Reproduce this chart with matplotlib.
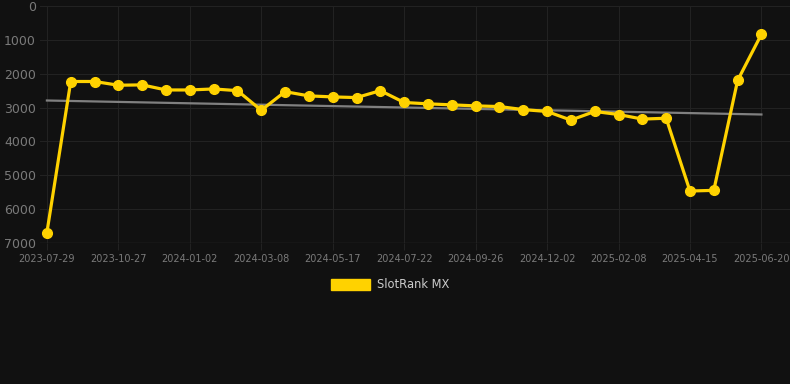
import matplotlib.pyplot as plt
import numpy as np
from matplotlib.patches import Patch

# rank values, one per observation (lower = better)
ranks = [6690, 2230, 2230, 2340, 2330, 2480, 2480, 2450, 2500, 3080,
         2530, 2655, 2685, 2705, 2500, 2850, 2890, 2920, 2950, 2970,
         3060, 3115, 3370, 3115, 3205, 3340, 3315, 5465, 5445, 2200, 835]
tick_labels = ['2023-07-29', '2023-10-27', '2024-01-02', '2024-03-08', '2024-05-17',
               '2024-07-22', '2024-09-26', '2024-12-02', '2025-02-08', '2025-04-15',
               '2025-06-20']
series_name = 'SlotRank MX'

bg = '#111111'
x = np.arange(len(ranks))

fig = plt.figure(figsize=(7.9, 3.84), dpi=100, facecolor=bg)
ax = fig.add_axes([40 / 790, (384 - 243) / 384, 750 / 790, 237 / 384])
ax.set_facecolor(bg)

# trend line (linear fit)
k, b = np.polyfit(x, ranks, 1)
ax.plot(x, k * x + b, color='#808080', lw=1.6, zorder=2)

ax.plot(x, ranks, color='#FFD200', lw=2.3, marker='o', markersize=7, zorder=3)

ax.set_ylim(7000, 0)
ax.set_xlim(-0.29, 31.2)
ax.set_yticks(range(0, 7001, 1000))
ax.set_xticks(x[::3])
ax.set_xticklabels(tick_labels)

ax.grid(True, color='#222222', lw=0.8)
ax.set_axisbelow(True)
for s in ax.spines.values():
    s.set_visible(False)
ax.tick_params(axis='x', colors='#222222', labelcolor='#7a7a7a', labelsize=7, length=5, pad=3)
ax.tick_params(axis='y', length=0, labelcolor='#7a7a7a', labelsize=9, pad=3)
ax.axhline(7000, color='#2c2c2c', lw=1)

leg = fig.legend(handles=[Patch(color='#FFD200', label=series_name)],
                 loc='center', bbox_to_anchor=(390 / 790, 1 - 285 / 384),
                 frameon=False, handlelength=3.4, handleheight=1.05, handletextpad=0.55,
                 fontsize=8.3, labelcolor='#cccccc')

fig.savefig('out.png', dpi=100, facecolor=bg)
